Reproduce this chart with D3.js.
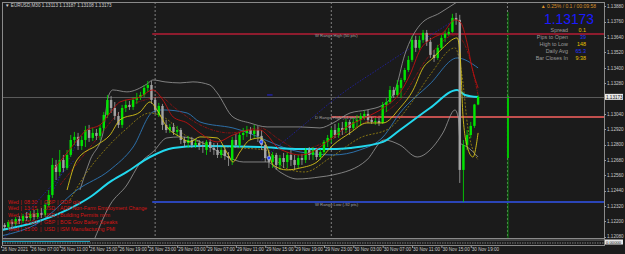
<!DOCTYPE html>
<html><head><meta charset="utf-8">
<script src="https://cdn.jsdelivr.net/npm/d3@7"></script>
<style>html,body{margin:0;padding:0;background:#1b1b1b;overflow:hidden}svg{display:block}text{font-family:"Liberation Sans",Arial,sans-serif}</style>
</head><body><svg id="c" width="625" height="254"></svg>
<script>
// ---------------- DATA ----------------
const headerText = "EURUSD,M30  1.13113 1.13187 1.13108 1.13173";
const timeLabels = [[0,"26 Nov 2021"],[8,"26 Nov 07:00"],[16,"26 Nov 11:00"],[24,"26 Nov 15:00"],[32,"26 Nov 19:00"],[40,"26 Nov 23:00"],[48,"29 Nov 03:00"],[56,"29 Nov 07:00"],[64,"29 Nov 11:00"],[72,"29 Nov 15:00"],[80,"29 Nov 19:00"],[88,"29 Nov 23:00"],[96,"30 Nov 03:00"],[104,"30 Nov 07:00"],[112,"30 Nov 11:00"],[120,"30 Nov 15:00"],[128,"30 Nov 19:00"]];
const priceTicks = [1.12080,1.12200,1.12320,1.12440,1.12560,1.12680,1.12800,1.12920,1.13040,1.13280,1.13400,1.13520,1.13640,1.13760,1.13880];
const daySeparators = [42, 90, 138];
const lastPrice = 1.13173;
// candles: [open, high, low, close]
const candles = [
[1.12148,1.12195,1.12125,1.12172],[1.12172,1.12187,1.12132,1.12156],[1.12156,1.12211,1.12140,1.12195],[1.12195,1.12218,1.12156,1.12179],
[1.12179,1.12234,1.12164,1.12218],[1.12218,1.12242,1.12179,1.12203],[1.12203,1.12258,1.12187,1.12242],[1.12242,1.12273,1.12203,1.12226],
[1.12226,1.12281,1.12203,1.12258],[1.12258,1.12289,1.12211,1.12234],[1.12234,1.12297,1.12218,1.12265],[1.12265,1.12304,1.12226,1.12250],
[1.12250,1.12344,1.12234,1.12328],[1.12328,1.12445,1.12312,1.12406],[1.12406,1.12695,1.12383,1.12641],[1.12641,1.12680,1.12523,1.12586],
[1.12586,1.12758,1.12555,1.12680],[1.12680,1.12719,1.12586,1.12617],[1.12617,1.12758,1.12602,1.12719],[1.12719,1.12875,1.12703,1.12836],
[1.12836,1.12899,1.12797,1.12860],[1.12860,1.12891,1.12758,1.12789],[1.12789,1.12868,1.12758,1.12836],[1.12836,1.12946,1.12781,1.12914],
[1.12914,1.12954,1.12821,1.12852],[1.12852,1.12930,1.12828,1.12891],[1.12891,1.12922,1.12836,1.12868],[1.12868,1.12954,1.12836,1.12930],
[1.12930,1.13055,1.12907,1.13032],[1.13032,1.13188,1.13008,1.13149],[1.13149,1.13180,1.13047,1.13086],[1.13086,1.13133,1.12993,1.13024],
[1.13024,1.13055,1.12930,1.12954],[1.12954,1.13110,1.12930,1.13086],[1.13086,1.13149,1.13055,1.13110],[1.13110,1.13141,1.13071,1.13094],
[1.13094,1.13172,1.13071,1.13149],[1.13149,1.13204,1.13118,1.13172],[1.13172,1.13212,1.13149,1.13188],[1.13188,1.13266,1.13172,1.13243],
[1.13243,1.13298,1.13212,1.13266],[1.13266,1.13298,1.13118,1.13149],[1.13149,1.13172,1.13040,1.13071],[1.13032,1.13126,1.13016,1.13102],
[1.13102,1.13118,1.12914,1.12954],[1.12954,1.12993,1.12891,1.12914],[1.12914,1.12961,1.12891,1.12938],[1.12938,1.12969,1.12875,1.12899],
[1.12899,1.12946,1.12868,1.12914],[1.12914,1.12930,1.12805,1.12836],[1.12836,1.12860,1.12781,1.12813],[1.12813,1.12868,1.12774,1.12836],
[1.12836,1.12860,1.12774,1.12797],[1.12797,1.12844,1.12774,1.12813],[1.12813,1.12836,1.12758,1.12789],[1.12789,1.12828,1.12735,1.12781],
[1.12758,1.12836,1.12719,1.12821],[1.12821,1.12844,1.12742,1.12774],[1.12774,1.12813,1.12719,1.12758],[1.12758,1.12813,1.12695,1.12719],
[1.12719,1.12781,1.12695,1.12758],[1.12758,1.12789,1.12680,1.12711],[1.12711,1.12742,1.12633,1.12695],[1.12680,1.12860,1.12641,1.12836],
[1.12836,1.12883,1.12774,1.12797],[1.12797,1.12899,1.12774,1.12875],[1.12875,1.12930,1.12836,1.12891],[1.12891,1.12946,1.12860,1.12914],
[1.12914,1.12938,1.12836,1.12883],[1.12883,1.12954,1.12852,1.12914],[1.12914,1.12946,1.12821,1.12868],[1.12868,1.12914,1.12758,1.12797],
[1.12797,1.12821,1.12664,1.12695],[1.12695,1.12758,1.12617,1.12664],[1.12664,1.12742,1.12617,1.12719],[1.12719,1.12735,1.12602,1.12641],
[1.12641,1.12719,1.12602,1.12695],[1.12695,1.12735,1.12617,1.12664],[1.12664,1.12742,1.12617,1.12719],[1.12719,1.12758,1.12633,1.12680],
[1.12680,1.12719,1.12602,1.12641],[1.12641,1.12719,1.12617,1.12695],[1.12695,1.12727,1.12641,1.12680],[1.12680,1.12774,1.12656,1.12758],
[1.12758,1.12781,1.12680,1.12719],[1.12719,1.12781,1.12680,1.12758],[1.12758,1.12774,1.12680,1.12703],[1.12703,1.12766,1.12680,1.12742],
[1.12742,1.12836,1.12719,1.12821],[1.12821,1.12875,1.12781,1.12852],[1.12852,1.12930,1.12813,1.12914],[1.12914,1.12961,1.12852,1.12875],
[1.12875,1.12969,1.12852,1.12930],[1.12930,1.12977,1.12875,1.12914],[1.12914,1.13000,1.12891,1.12977],[1.12977,1.12993,1.12875,1.12930],
[1.12930,1.13008,1.12914,1.12977],[1.12977,1.13032,1.12938,1.12993],[1.12993,1.13047,1.12946,1.13024],[1.13024,1.13063,1.12993,1.13040],
[1.13040,1.13071,1.12969,1.12993],[1.12993,1.13016,1.12961,1.12977],[1.12977,1.13008,1.12954,1.12985],[1.12985,1.13008,1.12946,1.12969],
[1.12969,1.13133,1.12961,1.13110],[1.13110,1.13165,1.13055,1.13133],[1.13133,1.13258,1.13118,1.13227],[1.13227,1.13251,1.13165,1.13188],
[1.13188,1.13305,1.13172,1.13266],[1.13243,1.13321,1.13165,1.13305],[1.13305,1.13399,1.13290,1.13383],[1.13383,1.13493,1.13368,1.13462],
[1.13462,1.13650,1.13446,1.13618],[1.13618,1.13650,1.13524,1.13556],[1.13556,1.13650,1.13540,1.13618],[1.13618,1.13696,1.13595,1.13673],
[1.13673,1.13696,1.13571,1.13603],[1.13603,1.13634,1.13477,1.13501],[1.13501,1.13540,1.13446,1.13477],[1.13477,1.13579,1.13462,1.13556],
[1.13556,1.13657,1.13540,1.13634],[1.13634,1.13689,1.13603,1.13665],[1.13665,1.13712,1.13650,1.13681],[1.13681,1.13822,1.13673,1.13790],
[1.13790,1.13829,1.13736,1.13775],[1.13775,1.13814,1.12500,1.12602],[1.12602,1.12836,1.12351,1.12797],[1.12797,1.12914,1.12758,1.12875],
[1.12875,1.12977,1.12852,1.12946],[1.12946,1.13118,1.12930,1.13113],[1.13113,1.13187,1.13108,1.13173]
];
// indicator lines sampled as [bar, price]
const maSlow = [[0,1.12132],[8.7,1.12187],[18,1.12289],[24.3,1.12390],[29.7,1.12508],[34.3,1.12586],[40.6,1.12703],[46.9,1.12774],[54.2,1.12789],[70.6,1.12781],[81.5,1.12766],[90.5,1.12766],[95.1,1.12774],[104.1,1.12821],[108.7,1.12914],[116.9,1.13086],[124.3,1.13227],[126.4,1.13188],[130,1.13172]];
const maMid = [[0,1.12086],[10.6,1.12195],[20.7,1.12445],[29.7,1.12602],[36,1.12781],[41.4,1.13055],[44.1,1.13071],[50.7,1.13047],[54.2,1.12977],[63.2,1.12930],[81.5,1.12742],[90.5,1.12719],[97.8,1.12758],[104.1,1.12860],[108.7,1.13047],[116.9,1.13274],[124.3,1.13477],[130,1.13399]];
const maRed = [[14.2,1.12602],[18,1.12735],[23.4,1.12914],[27,1.12954],[29.7,1.13047],[32.4,1.13133],[37.9,1.13172],[41.4,1.13227],[44.1,1.13149],[46.9,1.13016],[50.7,1.12969],[54.2,1.12891],[58.9,1.12821],[63.2,1.12875],[67.8,1.12914],[70.6,1.12914],[72.5,1.12875],[75.2,1.12781],[77.9,1.12742],[81.5,1.12719],[84.2,1.12735],[86.9,1.12781],[90.5,1.12860],[95.1,1.12954],[99.7,1.13016],[104.1,1.13086],[108.7,1.13204],[111.4,1.13344],[114.2,1.13540],[117.7,1.13634],[120.4,1.13673],[123.7,1.13775],[125.1,1.13759],[127,1.13595],[128.3,1.13407],[130,1.13243]];
const maRedDash = [[16.1,1.12484],[21.5,1.12680],[27,1.12875],[32.4,1.13055],[39.2,1.13149],[43.3,1.13172],[47.4,1.13086],[54.2,1.12954],[62.4,1.12891],[70.6,1.12930],[76,1.12836],[81.5,1.12758],[89.6,1.12836],[97.8,1.12954],[108.7,1.13149],[116.9,1.13501],[123.7,1.13657],[126.4,1.13579],[130,1.13188]];
const maYellow = [[18,1.12445],[20.7,1.12680],[26.2,1.12797],[29.7,1.12875],[32.4,1.12993],[37.9,1.13055],[40.6,1.13133],[42.5,1.13071],[45.2,1.12938],[48.8,1.12860],[51.5,1.12821],[54.2,1.12860],[58.9,1.12852],[61.6,1.12735],[63.2,1.12664],[65.1,1.12742],[67.8,1.12836],[70.6,1.12852],[72.5,1.12781],[74.1,1.12641],[77.9,1.12602],[81.5,1.12617],[86.1,1.12664],[90.5,1.12797],[95.1,1.12891],[99.7,1.12969],[104.1,1.12969],[108.7,1.13086],[112.3,1.13227],[115,1.13399],[117.7,1.13477],[120.4,1.13556],[124.3,1.13634],[125.1,1.13501],[125.9,1.13016],[127.3,1.12758],[128.6,1.12703],[130,1.12891]];
const maYellowDash = [[18.8,1.12367],[22.9,1.12563],[28.3,1.12758],[33.8,1.12914],[40.6,1.13047],[44.7,1.13008],[50.1,1.12875],[56.9,1.12797],[65.1,1.12774],[71.9,1.12758],[77.4,1.12617],[82.8,1.12586],[89.6,1.12695],[97.8,1.12852],[106,1.12930],[111.4,1.13110],[116.9,1.13344],[123.7,1.13556],[125.6,1.13344],[127.3,1.12914],[130,1.12680]];
const bandUpper = [[21.5,1.12445],[24.3,1.12680],[27.8,1.12891],[29.2,1.13172],[30.5,1.13227],[34.3,1.13212],[39.8,1.13274],[41.4,1.13305],[44.7,1.13290],[48.8,1.13282],[52.3,1.13290],[56.9,1.13266],[58.9,1.13204],[63.2,1.13016],[67.8,1.12969],[72.5,1.12938],[81.5,1.12938],[86.9,1.12930],[90.5,1.12969],[95.1,1.13047],[99.7,1.13071],[104.1,1.13110],[107.4,1.13227],[110,1.13501],[114.2,1.13736],[119.6,1.13829],[124.3,1.13915]];
const bandLower = [[25.6,1.12070],[29.7,1.12328],[34.3,1.12484],[37.9,1.12656],[41.4,1.12742],[45.2,1.12852],[48.8,1.12860],[51.5,1.12852],[56.1,1.12797],[62,1.12700],[66,1.12664],[72.5,1.12664],[76,1.12586],[80.7,1.12531],[86.9,1.12547],[90.5,1.12563],[99.7,1.12680],[104.4,1.12836],[108.7,1.12797],[113.4,1.12703],[117.7,1.12782],[120.4,1.12891],[123.7,1.13071],[124.6,1.13008],[125.1,1.12813],[127,1.12782],[130,1.12703]];
const trendDots1 = [[1,1.12070],[20,1.12680]];
const trendDots1b = [[9,1.12140],[21.5,1.12860]];
const trendDots2 = [[71,1.12680],[81.5,1.12930],[92.4,1.13188],[103.3,1.13399],[114.2,1.13603],[123.7,1.13775]];
const trendDash3 = [[72.5,1.13188],[74,1.13188]];
const markerPts = [[70.9,1.12821],[73,1.12695]];
const rangeLines = [
  {name:"W Range High (50 pts)", price:1.13665, from:41.2},
  {name:"D Range High (14 pts)", price:1.13016, from:90},
  {name:"W Range Low (-92 pts)", price:1.12351, from:41.2}
];
const infoTop = "\u25B2 0.25% / 0.1 / 00:09:58";
const infoLabels = ["Spread","Pips to Open","High to Low","Daily Avg","Bar Closes In"];
const infoValues = ["0.1","39","148","65.3","9:38"];
const events = [
 ["Wed","08:30","GBP","GDP q/q"],
 ["Wed","13:15","USD","ADP Non-Farm Employment Change"],
 ["Wed","15:00","USD","Building Permits m/m"],
 ["Wed","15:00","GBP","BOE Gov Bailey Speaks"],
 ["Wed","15:00","USD","ISM Manufacturing PMI"]
];

// ---------------- DRAW ----------------
const svg = d3.select("#c");
const L = 2, R = 604, T = 2, B = 238;
const x = d3.scaleLinear().domain([0, 130]).range([1, 478.1]);
const y = d3.scaleLinear().domain([1.12080, 1.13880]).range([236.7, 6.4]);

svg.append("rect").attr("width",625).attr("height",254).attr("fill","#1b1b1b");
svg.append("defs").append("clipPath").attr("id","clip").append("rect")
  .attr("x",L).attr("y",T).attr("width",R-L).attr("height",B-T);
const g = svg.append("g").attr("clip-path","url(#clip)");

daySeparators.forEach(d => {
  g.append("line").attr("x1",x(d)).attr("x2",x(d)).attr("y1",T).attr("y2",B)
   .attr("stroke","#9a9a9a").attr("stroke-width",0.8).attr("stroke-dasharray","2,2");
});
g.append("line").attr("x1",x(138)+0.5).attr("x2",x(138)+0.5).attr("y1",12).attr("y2",B)
  .attr("stroke","#00a000").attr("stroke-width",0.8);
g.append("line").attr("x1",x(138)+0.5).attr("x2",x(138)+0.5).attr("y1",y(1.13180)).attr("y2",y(1.12695))
  .attr("stroke","#00c800").attr("stroke-width",2);

const rangeColors = ["#8e1c2e","#c2504e","#2b45b8"];
rangeLines.forEach((r,i) => {
  g.append("line").attr("x1",x(r.from)).attr("x2",R).attr("y1",y(r.price)).attr("y2",y(r.price))
   .attr("stroke",rangeColors[i]).attr("stroke-width",2);
  g.append("text").attr("x",315).attr("y",y(r.price)+ (i===1?2.5:3.5)).attr("font-size",4.2)
   .attr("fill","#a0a0a0").text(r.name);
});
g.append("line").attr("x1",L).attr("x2",R).attr("y1",Math.round(y(lastPrice))+0.5).attr("y2",Math.round(y(lastPrice))+0.5)
  .attr("stroke","#5a5a5a").attr("stroke-width",1);

const line = d3.line().x(d=>x(d[0])).y(d=>y(d[1])).curve(d3.curveMonotoneX);
function drawLine(data, color, w, dash){
  const p = g.append("path").attr("d",line(data)).attr("fill","none").attr("stroke",color).attr("stroke-width",w);
  if(dash) p.attr("stroke-dasharray",dash);
}
drawLine(trendDots1,"#2020a0",0.9,"1.5,1.5");
drawLine(trendDots1b,"#2020a0",0.9,"1.5,1.5");
drawLine(trendDots2,"#2020a0",0.9,"1.5,1.5");
drawLine(trendDash3,"#2020c0",1.2);
drawLine(bandUpper,"#9a9a9a",0.8);
drawLine(bandLower,"#9a9a9a",0.8);
drawLine(maMid,"#2f78b8",0.9);
drawLine(maYellowDash,"#a08a10",0.8,"2,1.5");
drawLine(maRedDash,"#a01010",0.8,"3,1,1,1");
drawLine(maSlow,"#22d8ee",2);

const cw = 2.4;
candles.forEach((c,i) => {
  const [o,h,l,cl] = c, up = cl >= o, col = up ? "#00e600" : "#a4a4a4";
  const cx = x(i);
  g.append("line").attr("x1",cx).attr("x2",cx).attr("y1",y(h)).attr("y2",y(l)).attr("stroke",col).attr("stroke-width",0.8);
  const top = y(Math.max(o,cl)), bot = y(Math.min(o,cl));
  g.append("rect").attr("x",cx-cw/2).attr("y",top).attr("width",cw).attr("height",Math.max(0.8,bot-top)).attr("fill",col);
});
drawLine(maYellow,"#d8c418",0.9);
drawLine(maRed,"#c01010",0.9);

markerPts.forEach(p => {
  g.append("circle").attr("cx",x(p[0])).attr("cy",y(p[1])).attr("r",1.8).attr("fill","#2a4cff").attr("stroke","#b8c4ff").attr("stroke-width",0.6);
});

const evY0 = 203.5;
events.forEach((e,i) => {
  const cols = [8,24,44,60];
  e.forEach((s,j)=>{ g.append("text").attr("x",cols[j]).attr("y",evY0+i*6.8).attr("font-size",5.3).attr("fill","#d41414").text(s);});
  [20.5,40,57].forEach(px=>g.append("text").attr("x",px).attr("y",evY0+i*6.8).attr("font-size",5.3).attr("fill","#d41414").text("|"));
});

svg.append("line").attr("x1",L+0.5).attr("x2",L+0.5).attr("y1",T).attr("y2",246).attr("stroke","#8a8a8a");
svg.append("line").attr("x1",L).attr("x2",R).attr("y1",T+0.5).attr("y2",T+0.5).attr("stroke","#8a8a8a");
svg.append("line").attr("x1",R+0.5).attr("x2",R+0.5).attr("y1",T).attr("y2",246).attr("stroke","#8a8a8a");

svg.append("text").attr("x",5).attr("y",7).attr("font-size",4.6).attr("fill","#d0d0d0").text("\u25BC "+headerText);

svg.append("text").attr("x",596).attr("y",7.5).attr("text-anchor","end").attr("font-size",5).attr("fill","#d8902a").text(infoTop);
svg.append("text").attr("x",594).attr("y",24).attr("text-anchor","end").attr("font-size",14.5).attr("fill","#1a1aff").attr("textLength",50).attr("lengthAdjust","spacingAndGlyphs").text(lastPrice.toFixed(5));
const valColors = ["#e6c200","#2233ff","#e6c200","#2233ff","#e6c200"];
infoLabels.forEach((s,i)=>{
  svg.append("text").attr("x",568).attr("y",32.2+i*7).attr("text-anchor","end").attr("font-size",5.4).attr("fill","#9a9a9a").text(s);
  svg.append("text").attr("x",586).attr("y",32.2+i*7).attr("text-anchor","end").attr("font-size",5.4).attr("fill",valColors[i]).text(infoValues[i]);
});

priceTicks.forEach(p=>{
  svg.append("line").attr("x1",R).attr("x2",R+2).attr("y1",Math.round(y(p))+0.5).attr("y2",Math.round(y(p))+0.5).attr("stroke","#9a9a9a");
  svg.append("text").attr("x",607).attr("y",y(p)+1.7).attr("font-size",4.6).attr("fill","#c8c8c8").text(p.toFixed(5));
});
svg.append("rect").attr("x",605).attr("y",y(lastPrice)-3).attr("width",18).attr("height",6).attr("fill","#e8e8e8");
svg.append("text").attr("x",606).attr("y",y(lastPrice)+1.7).attr("font-size",4.6).attr("fill","#111").text(lastPrice.toFixed(5));

svg.append("line").attr("x1",L).attr("x2",R).attr("y1",238.5).attr("y2",238.5).attr("stroke","#8a8a8a");
svg.append("line").attr("x1",L).attr("x2",R).attr("y1",240).attr("y2",240).attr("stroke","#6a6a6a");
svg.append("line").attr("x1",L).attr("x2",R).attr("y1",243).attr("y2",243).attr("stroke","#c8c8c8").attr("stroke-width",0.6).attr("stroke-dasharray","1.5,1");
svg.append("line").attr("x1",L).attr("x2",90).attr("y1",241.5).attr("y2",241.5).attr("stroke","#22c8e8").attr("stroke-width",0.8);
svg.append("line").attr("x1",L).attr("x2",R).attr("y1",245.5).attr("y2",245.5).attr("stroke","#8a8a8a");
svg.append("rect").attr("x",605).attr("y",239.5).attr("width",18).attr("height",5).attr("fill","#e8e8e8");
svg.append("text").attr("x",606).attr("y",243.6).attr("font-size",4.2).attr("fill","#111").text("0.00000");

timeLabels.forEach(([b,s])=>{
  svg.append("line").attr("x1",x(b)+0.5).attr("x2",x(b)+0.5).attr("y1",246).attr("y2",248).attr("stroke","#9a9a9a");
  svg.append("text").attr("x",x(b)+1).attr("y",251).attr("font-size",4.6).attr("fill","#c8c8c8").text(s);
});
</script></body></html>
